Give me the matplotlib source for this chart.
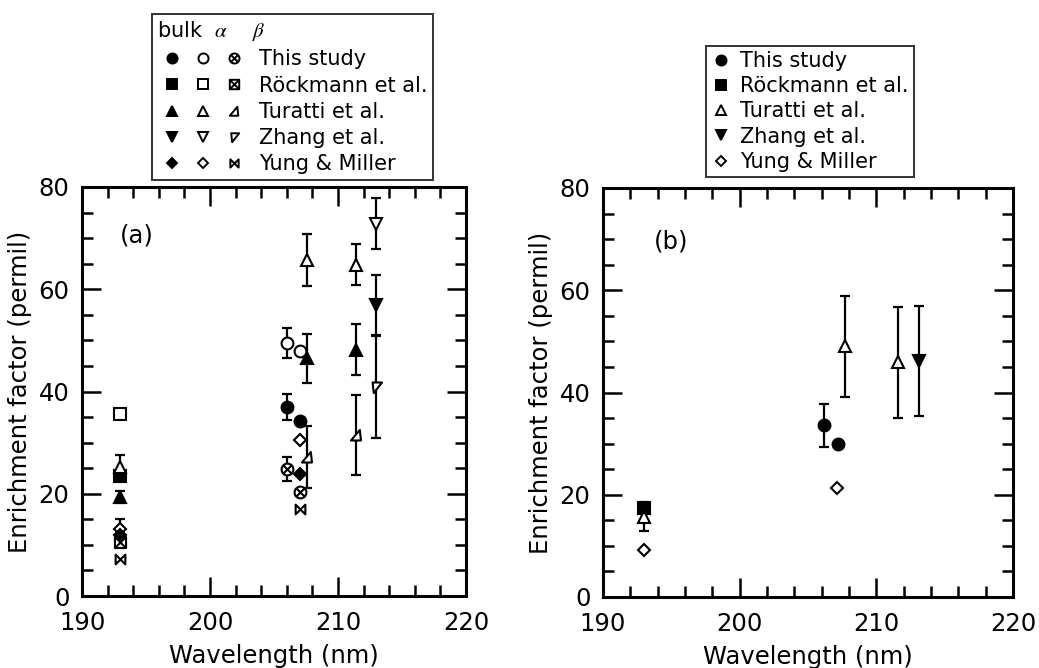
import numpy as np
import matplotlib
matplotlib.use("Agg")
import matplotlib.pyplot as plt
from matplotlib.path import Path
from matplotlib.lines import Line2D
from matplotlib.legend_handler import HandlerTuple
from matplotlib.ticker import MultipleLocator

plt.rcParams['font.family'] = ['DejaVu Sans']
plt.rcParams['mathtext.fontset'] = 'stix'

nan = np.nan

# ---------------- Panel (a) data ----------------
this_x = [206.0, 207.0]
this_bulk = [37.0, 34.2]
this_bulk_err = [2.6, nan]
this_alpha = [49.5, 48.0]
this_alpha_err = [3.0, nan]
this_beta = [24.8, 20.3]
this_beta_err = [2.4, nan]

rock_x = [193.0]
rock_bulk = [23.5]
rock_alpha = [35.6]
rock_beta = [10.6]

tur_x = [193.0, 207.6, 211.4]
tur_bulk = [19.3, 46.5, 48.2]
tur_bulk_err = [1.2, 4.8, 5.0]
tur_alpha = [25.3, 65.8, 64.8]
tur_alpha_err = [2.3, 5.1, 4.0]
tur_beta_x = [207.6, 211.4]
tur_beta = [27.2, 31.5]
tur_beta_err = [6.0, 7.9]

zhang_x = [213.0]
zhang_bulk = [56.9]
zhang_bulk_err = [5.8]
zhang_alpha = [72.8]
zhang_alpha_err = [5.0]
zhang_beta = [40.9]
zhang_beta_err = [10.0]

yung_x = [193.0, 207.0]
yung_bulk = [12.0, 23.8]
yung_alpha = [13.2, 30.5]
yung_alpha_err = [1.8, nan]
yung_beta = [7.2, 17.1]

# ---------------- Panel (b) data ----------------
b_this_x = [206.2, 207.2]
b_this = [33.6, 29.9]
b_this_err = [4.2, nan]
b_rock_x = [193.0]
b_rock = [17.5]
b_tur_x = [193.0, 207.7, 211.6]
b_tur = [15.7, 49.0, 45.9]
b_tur_err = [2.8, 9.9, 10.9]
b_zhang_x = [213.1]
b_zhang = [46.2]
b_zhang_err = [10.8]
b_yung_x = [193.0, 207.1]
b_yung = [9.1, 21.4]

study_labels = ['This study', 'Röckmann et al.', 'Turatti et al.', 'Zhang et al.', 'Yung & Miller']

# ---------------- custom markers ----------------
M, L, C = Path.MOVETO, Path.LINETO, Path.CLOSEPOLY
cross_small = Path([(-0.68, -0.68), (0.68, 0.68), (-0.68, 0.68), (0.68, -0.68)], [M, L, M, L])
otimes = Path.make_compound_path(Path.unit_circle(), cross_small)
square = Path([(-1, -1), (1, -1), (1, 1), (-1, 1), (-1, -1)], [M, L, L, L, C])
cross_big = Path([(-1, -1), (1, 1), (-1, 1), (1, -1)], [M, L, M, L])
boxtimes = Path.make_compound_path(square, cross_big)
half_up = Path([(-1, -0.9), (0.8, -0.9), (0.6, 1.0), (-1, -0.9)], [M, L, L, C])
half_down = Path([(-0.7, 0.9), (1.0, 0.9), (-0.5, -1.0), (-0.7, 0.9)], [M, L, L, C])
bowtie = Path([(-1, 1), (-1, -1), (1, 1), (1, -1), (-1, 1)], [M, L, L, L, C])

W, H = 1039, 668
fig = plt.figure(figsize=(W / 100, H / 100), dpi=100)
axa = fig.add_axes([82 / W, 1 - 596 / H, 384 / W, 409 / H])
axb = fig.add_axes([603 / W, 1 - 597 / H, 410 / W, 409 / H])


def series(ax, x, y, err, marker, filled, ms=8.5, z=3):
    if err is not None:
        ax.errorbar(x, y, yerr=err, fmt='none', ecolor='k', elinewidth=1.6,
                    capsize=3.8, capthick=1.6, zorder=2)
    ax.plot(x, y, ls='none', marker=marker, ms=ms, mfc='k' if filled else 'white',
            mec='k', mew=1.5, zorder=z)


# panel (a)
series(axa, rock_x, rock_alpha, None, 's', False, ms=8)
series(axa, rock_x, rock_bulk, None, 's', True, ms=8)
series(axa, rock_x, rock_beta, None, boxtimes, False, ms=8)
series(axa, tur_x, tur_alpha, tur_alpha_err, '^', False, ms=9)
series(axa, tur_x, tur_bulk, tur_bulk_err, '^', True, ms=9)
series(axa, tur_beta_x, tur_beta, tur_beta_err, half_up, False, ms=8)
series(axa, this_x, this_alpha, this_alpha_err, 'o', False)
series(axa, this_x, this_bulk, this_bulk_err, 'o', True)
series(axa, this_x, this_beta, this_beta_err, otimes, False)
series(axa, zhang_x, zhang_alpha, zhang_alpha_err, 'v', False, ms=9)
series(axa, zhang_x, zhang_bulk, zhang_bulk_err, 'v', True, ms=9)
series(axa, zhang_x, zhang_beta, zhang_beta_err, half_down, False, ms=8)
series(axa, yung_x, yung_alpha, yung_alpha_err, 'D', False, ms=6.5)
series(axa, yung_x, yung_bulk, None, 'D', True, ms=6.5)
series(axa, yung_x, yung_beta, None, bowtie, False, ms=7)

# panel (b)
series(axb, b_this_x, b_this, b_this_err, 'o', True)
series(axb, b_rock_x, b_rock, None, 's', True, ms=8)
series(axb, b_tur_x, b_tur, b_tur_err, '^', False, ms=9)
series(axb, b_zhang_x, b_zhang, b_zhang_err, 'v', True, ms=9)
series(axb, b_yung_x, b_yung, None, 'D', False, ms=6.5)

for ax, tag, tx, ty in ((axa, '(a)', 194.3, 70.5), (axb, '(b)', 195.0, 69.6)):
    ax.set_xlim(190, 220)
    ax.set_ylim(0, 80)
    ax.xaxis.set_major_locator(MultipleLocator(10))
    ax.xaxis.set_minor_locator(MultipleLocator(2))
    ax.yaxis.set_major_locator(MultipleLocator(20))
    ax.yaxis.set_minor_locator(MultipleLocator(5))
    ax.tick_params(which='both', direction='in', top=True, right=True, width=1.8,
                   labelsize=17.5)
    ax.tick_params(which='major', length=14)
    ax.tick_params(which='minor', length=8)
    ax.tick_params(axis='x', pad=11)
    ax.tick_params(axis='y', pad=9)
    for s in ax.spines.values():
        s.set_linewidth(2.2)
    ax.set_xlabel('Wavelength (nm)', fontsize=17.5, labelpad=6)
    ax.set_ylabel('Enrichment factor (permil)', fontsize=17.5, labelpad=5)
    ax.text(tx, ty, tag, fontsize=17.5, ha='center', va='center')


def h(marker, filled, ms):
    return Line2D([], [], ls='none', marker=marker, ms=ms,
                  mfc='k' if filled else 'white', mec='k', mew=1.4)


rows_a = [
    (h('o', True, 8.5), h('o', False, 8.5), h(otimes, False, 8.5)),
    (h('s', True, 8), h('s', False, 8), h(boxtimes, False, 8)),
    (h('^', True, 9), h('^', False, 9), h(half_up, False, 8)),
    (h('v', True, 9), h('v', False, 9), h(half_down, False, 8)),
    (h('D', True, 6.5), h('D', False, 6.5), h(bowtie, False, 7)),
]
leg_a = fig.legend(rows_a, study_labels, handler_map={tuple: HandlerTuple(ndivide=None, pad=0.0)},
                   loc='upper left', bbox_to_anchor=(152 / W, 1 - 14 / H),
                   bbox_transform=fig.transFigure, borderaxespad=0, frameon=True,
                   fancybox=False, edgecolor='k', fontsize=15,
                   title='bulk  $\\alpha$    $\\beta$', title_fontsize=15, alignment='left',
                   handlelength=4.4, handletextpad=0.5, labelspacing=0.3, borderpad=0.25,
                   markerscale=0.85)
leg_a.get_frame().set_linewidth(1.4)

rows_b = [h('o', True, 8.5), h('s', True, 8), h('^', False, 9), h('v', True, 9), h('D', False, 6.5)]
leg_b = fig.legend(rows_b, study_labels, loc='lower left', bbox_to_anchor=(706 / W, 1 - 177 / H),
                   bbox_transform=fig.transFigure, borderaxespad=0, frameon=True,
                   fancybox=False, edgecolor='k', fontsize=15,
                   handlelength=0.9, handletextpad=0.5, labelspacing=0.25, borderpad=0.25,
                   markerscale=0.85)
leg_b.get_frame().set_linewidth(1.4)

fig.savefig('out.png', dpi=100)
